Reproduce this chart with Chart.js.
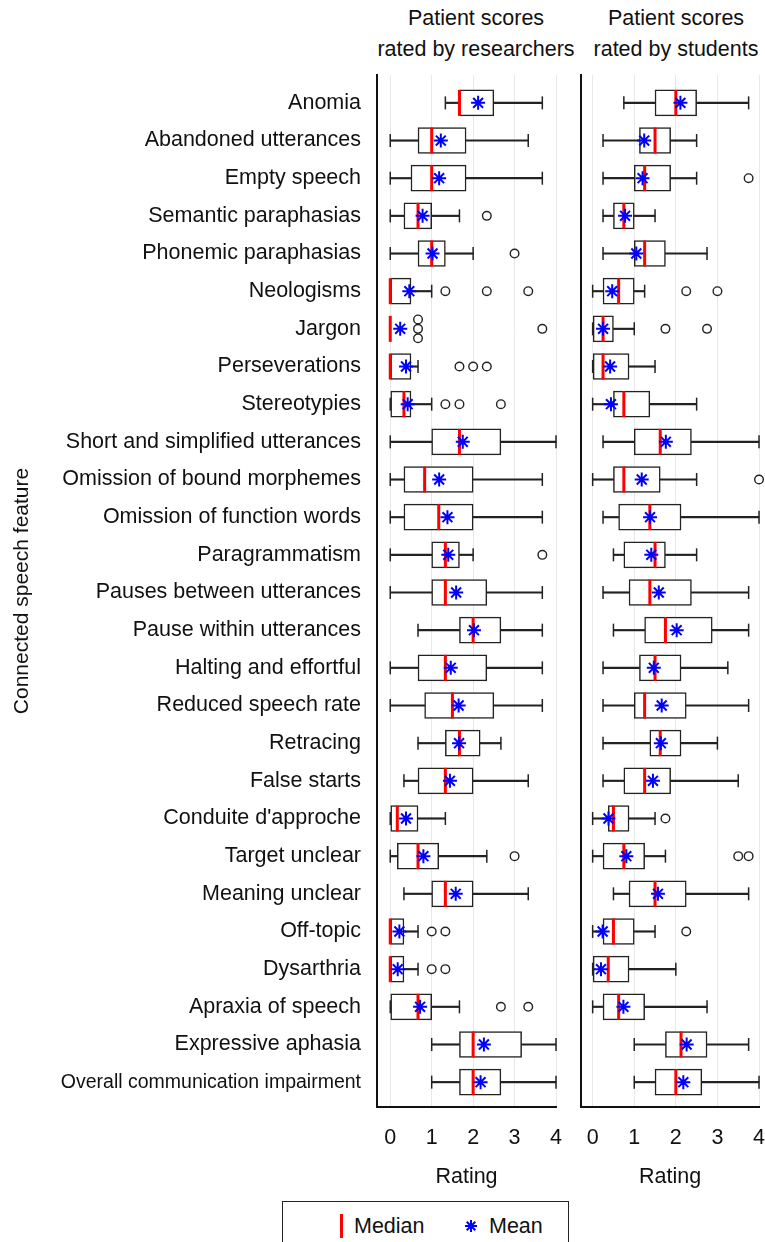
<!DOCTYPE html>
<html>
<head>
<meta charset="utf-8">
<script src="https://cdn.jsdelivr.net/npm/chart.js@4"></script>
<style>
  body { margin: 0; background: #fff; width: 765px; height: 1242px; overflow: hidden; position: relative;
         font-family: "Liberation Sans", Arial, sans-serif; color: #111; }
  #left { position: absolute; left: 0; top: 0; }
  #right { position: absolute; left: 572px; top: 0; }
  .ptitle { position: absolute; top: 2.5px; width: 240px; text-align: center; font-size: 21.5px; line-height: 31px; }
  #legend { position: absolute; left: 282px; top: 1201px; width: 285px; height: 60px;
            border: 1px solid #222; border-bottom: none; font-size: 21.5px; }
  .item { position: absolute; top: 12px; height: 24px; line-height: 24px; }
</style>
</head>
<body>
<div class="ptitle" style="left:356px">Patient scores<br>rated by researchers</div>
<div class="ptitle" style="left:556px">Patient scores<br>rated by students</div>
<canvas id="left" width="572" height="1195"></canvas>
<canvas id="right" width="193" height="1195"></canvas>
<div id="legend">
  <div class="item" style="left:57px"><span style="display:inline-block;width:3px;height:24px;background:#f00;vertical-align:top"></span><span style="margin-left:11px">Median</span></div>
  <div class="item" style="left:181px"><svg width="14" height="24" viewBox="-7 -12 14 24" style="vertical-align:top"><g stroke="#00f" stroke-width="2"><line x1="-6" y1="0" x2="6" y2="0"/><line x1="0" y1="-6" x2="0" y2="6"/><line x1="-4.3" y1="-4.3" x2="4.3" y2="4.3"/><line x1="-4.3" y1="4.3" x2="4.3" y2="-4.3"/></g></svg><span style="margin-left:11px">Mean</span></div>
</div>
<script>
const features = ['Anomia', 'Abandoned utterances', 'Empty speech', 'Semantic paraphasias',
  'Phonemic paraphasias', 'Neologisms', 'Jargon', 'Perseverations', 'Stereotypies',
  'Short and simplified utterances', 'Omission of bound morphemes', 'Omission of function words',
  'Paragrammatism', 'Pauses between utterances', 'Pause within utterances', 'Halting and effortful',
  'Reduced speech rate', 'Retracing', 'False starts', "Conduite d'approche", 'Target unclear',
  'Meaning unclear', 'Off-topic', 'Dysarthria', 'Apraxia of speech', 'Expressive aphasia',
  'Overall communication impairment'];
const ratingTicks = [0, 1, 2, 3, 4];

// rated by researchers
const resLow  = [1.33, 0, 0, 0, 0, 0, 0, 0, 0, 0, 0, 0, 0, 0, 0.67, 0, 0, 0.67, 0.33, 0, 0, 0.33, 0, 0, 0, 1, 1];
const resQ1   = [1.67, 0.67, 0.5, 0.33, 0.67, 0, 0, 0, 0, 1, 0.33, 0.33, 1, 1, 1.67, 0.67, 0.83, 1.33, 0.67, 0, 0.17, 1, 0, 0, 0, 1.67, 1.67];
const resMed  = [1.67, 1, 1, 0.67, 1, 0, 0, 0, 0.33, 1.67, 0.83, 1.17, 1.33, 1.33, 2, 1.33, 1.5, 1.67, 1.33, 0.17, 0.67, 1.33, 0, 0, 0.67, 2, 2];
const resQ3   = [2.5, 1.83, 1.83, 1, 1.33, 0.5, 0, 0.5, 0.5, 2.67, 2, 2, 1.67, 2.33, 2.67, 2.33, 2.5, 2.17, 2, 0.67, 1.17, 2, 0.33, 0.33, 1, 3.17, 2.67];
const resHigh = [3.67, 3.33, 3.67, 1.67, 2, 1, 0, 0.67, 1, 4, 3.67, 3.67, 2, 3.67, 3.67, 3.67, 3.67, 2.67, 3.33, 1.33, 2.33, 3.33, 0.67, 0.67, 1.67, 4, 4];
const resMean = [2.12, 1.22, 1.18, 0.78, 1.02, 0.46, 0.24, 0.38, 0.42, 1.75, 1.18, 1.38, 1.4, 1.59, 2.02, 1.46, 1.65, 1.66, 1.44, 0.38, 0.8, 1.58, 0.22, 0.18, 0.72, 2.26, 2.18];
const resOut  = [[], [], [], [2.33], [3], [1.33, 2.33, 3.33], [0.67, 0.67, 0.67, 3.67], [1.67, 2, 2.33],
  [1.33, 1.67, 2.67], [], [], [], [3.67], [], [], [], [], [], [], [], [3], [], [1, 1.33], [1, 1.33],
  [2.67, 3.33], [], []];

// rated by students
const stuLow  = [0.75, 0.25, 0.25, 0.25, 0.25, 0, 0, 0, 0, 0.25, 0, 0.25, 0.5, 0.25, 0.5, 0.25, 0.25, 0.25, 0.25, 0, 0, 0.5, 0, 0, 0, 1, 1];
const stuQ1   = [1.5, 1.125, 1, 0.5, 1, 0.25, 0, 0, 0.5, 1, 0.5, 0.625, 0.75, 0.875, 1.25, 1.125, 1, 1.375, 0.75, 0.375, 0.25, 0.875, 0.25, 0, 0.25, 1.75, 1.5];
const stuMed  = [2, 1.5, 1.25, 0.75, 1.25, 0.625, 0.25, 0.25, 0.75, 1.625, 0.75, 1.375, 1.5, 1.375, 1.75, 1.5, 1.25, 1.625, 1.25, 0.5, 0.75, 1.5, 0.5, 0.375, 0.625, 2.125, 2];
const stuQ3   = [2.5, 1.875, 1.875, 1, 1.75, 1, 0.5, 0.875, 1.375, 2.375, 1.625, 2.125, 1.75, 2.375, 2.875, 2.125, 2.25, 2.125, 1.875, 0.875, 1.25, 2.25, 1, 0.875, 1.25, 2.75, 2.625];
const stuHigh = [3.75, 2.5, 2.5, 1.5, 2.75, 1.25, 1, 1.5, 2.5, 4, 2.5, 4, 2.5, 3.75, 3.75, 3.25, 3.75, 3, 3.5, 1.5, 1.75, 3.75, 1.5, 2, 2.75, 3.75, 4];
const stuMean = [2.11, 1.24, 1.2, 0.78, 1.05, 0.47, 0.25, 0.42, 0.44, 1.76, 1.18, 1.38, 1.41, 1.59, 2.02, 1.47, 1.66, 1.64, 1.45, 0.38, 0.81, 1.57, 0.24, 0.2, 0.74, 2.26, 2.18];
const stuOut  = [[], [], [3.75], [], [], [2.25, 3], [1.75, 2.75], [], [], [], [4], [], [], [], [], [], [],
  [], [], [1.75], [3.5, 3.75], [], [2.25], [], [], [], []];

const FAMILY = '"Liberation Sans", Arial, sans-serif';
const FONT = { family: FAMILY, size: 21.5 };
const SQUEEZED = { family: FAMILY, size: 19.5 };  // the long last label is narrower in the original
const INK = '#111';

function panelDatasets(lo, q1, med, q3, hi, mean, outliers) {
  const rows = features.map((_, i) => i);
  // identical outliers in one row are stacked vertically
  const outPts = [];
  outliers.forEach((vals, i) => {
    const seen = {};
    vals.forEach(v => {
      const n = vals.filter(w => w === v).length;
      const k = seen[v] = (seen[v] === undefined ? 0 : seen[v] + 1);
      outPts.push({ x: v, y: i + (k - (n - 1) / 2) * 0.25 });
    });
  });
  const whisker = { type: 'bar', backgroundColor: '#222', borderWidth: 0, barThickness: 1.5,
                    grouped: false, clip: false, order: 7 };
  const pts = { type: 'scatter', clip: false };
  return [
    { ...whisker, data: rows.map(i => ({ x: [lo[i], q1[i]], y: i })) },
    { ...whisker, data: rows.map(i => ({ x: [q3[i], hi[i]], y: i })) },
    { type: 'bar', data: rows.map(i => ({ x: [q1[i], q3[i]], y: i })), backgroundColor: '#fff',
      borderColor: '#222', borderWidth: 1.5, borderSkipped: false, barThickness: 26,
      grouped: false, clip: false, order: 5 },
    { ...pts, data: rows.flatMap(i => [{ x: lo[i], y: i }, { x: hi[i], y: i }]), pointStyle: 'line',
      pointRotation: 90, pointRadius: 6.5, pointBorderColor: '#222', pointBorderWidth: 1.5, order: 4 },
    { ...pts, data: outPts, pointStyle: 'circle', pointRadius: 4.3, pointBackgroundColor: '#fff',
      pointBorderColor: '#222', pointBorderWidth: 1.4, order: 3 },
    { ...pts, data: rows.map(i => ({ x: med[i], y: i })), pointStyle: 'line', pointRotation: 90,
      pointRadius: 13, pointBorderColor: '#f00', pointBorderWidth: 3, order: 2 },
    { ...pts, data: rows.map(i => ({ x: mean[i], y: i })), pointStyle: 'star', pointRadius: 7,
      pointBorderColor: '#00f', pointBorderWidth: 2, order: 1 }
  ];
}

function makePanel(canvasId, xMin, withLabels, padRight, datasets) {
  return new Chart(document.getElementById(canvasId), {
    type: 'bar',
    data: { datasets: datasets },
    options: {
      indexAxis: 'y',
      responsive: false,
      animation: false,
      events: [],
      layout: { autoPadding: false, padding: { top: 75, right: padRight, left: 0, bottom: 0 } },
      plugins: { legend: { display: false }, tooltip: { enabled: false } },
      scales: {
        x: {
          type: 'linear', min: xMin, max: 4,
          afterBuildTicks: s => { s.ticks = ratingTicks.map(v => ({ value: v })); },
          afterFit: s => { s.height = 88; },
          grid: { color: '#e8e8e8', lineWidth: 1, drawTicks: true, tickLength: 18, tickColor: 'rgba(0,0,0,0)' },
          border: { display: true, color: INK, width: 2 },
          ticks: { padding: 0, color: INK, font: FONT },
          title: { display: true, text: 'Rating', color: INK, font: FONT, padding: { top: 0, bottom: 5 } }
        },
        y: {
          type: 'linear', reverse: true, min: -0.74, max: 26.66, offset: false,
          afterBuildTicks: s => { s.ticks = features.map((_, i) => ({ value: i })); },
          afterFit: s => { s.width = withLabels ? 377 : 9; },
          grid: { display: false, drawTicks: false },
          border: { display: true, color: INK, width: 2 },
          ticks: { display: withLabels, padding: 16, color: INK, callback: v => features[v],
                   font: ctx => (ctx.index === features.length - 1 ? SQUEEZED : FONT) },
          title: { display: withLabels, text: 'Connected speech feature', color: INK,
                   font: { family: FAMILY, size: 21 }, padding: { top: 10, bottom: 0 } }
        }
      }
    }
  });
}

makePanel('left', -0.32, true, 16, panelDatasets(resLow, resQ1, resMed, resQ3, resHigh, resMean, resOut));
makePanel('right', -0.28, false, 5, panelDatasets(stuLow, stuQ1, stuMed, stuQ3, stuHigh, stuMean, stuOut));
</script>
</body>
</html>
